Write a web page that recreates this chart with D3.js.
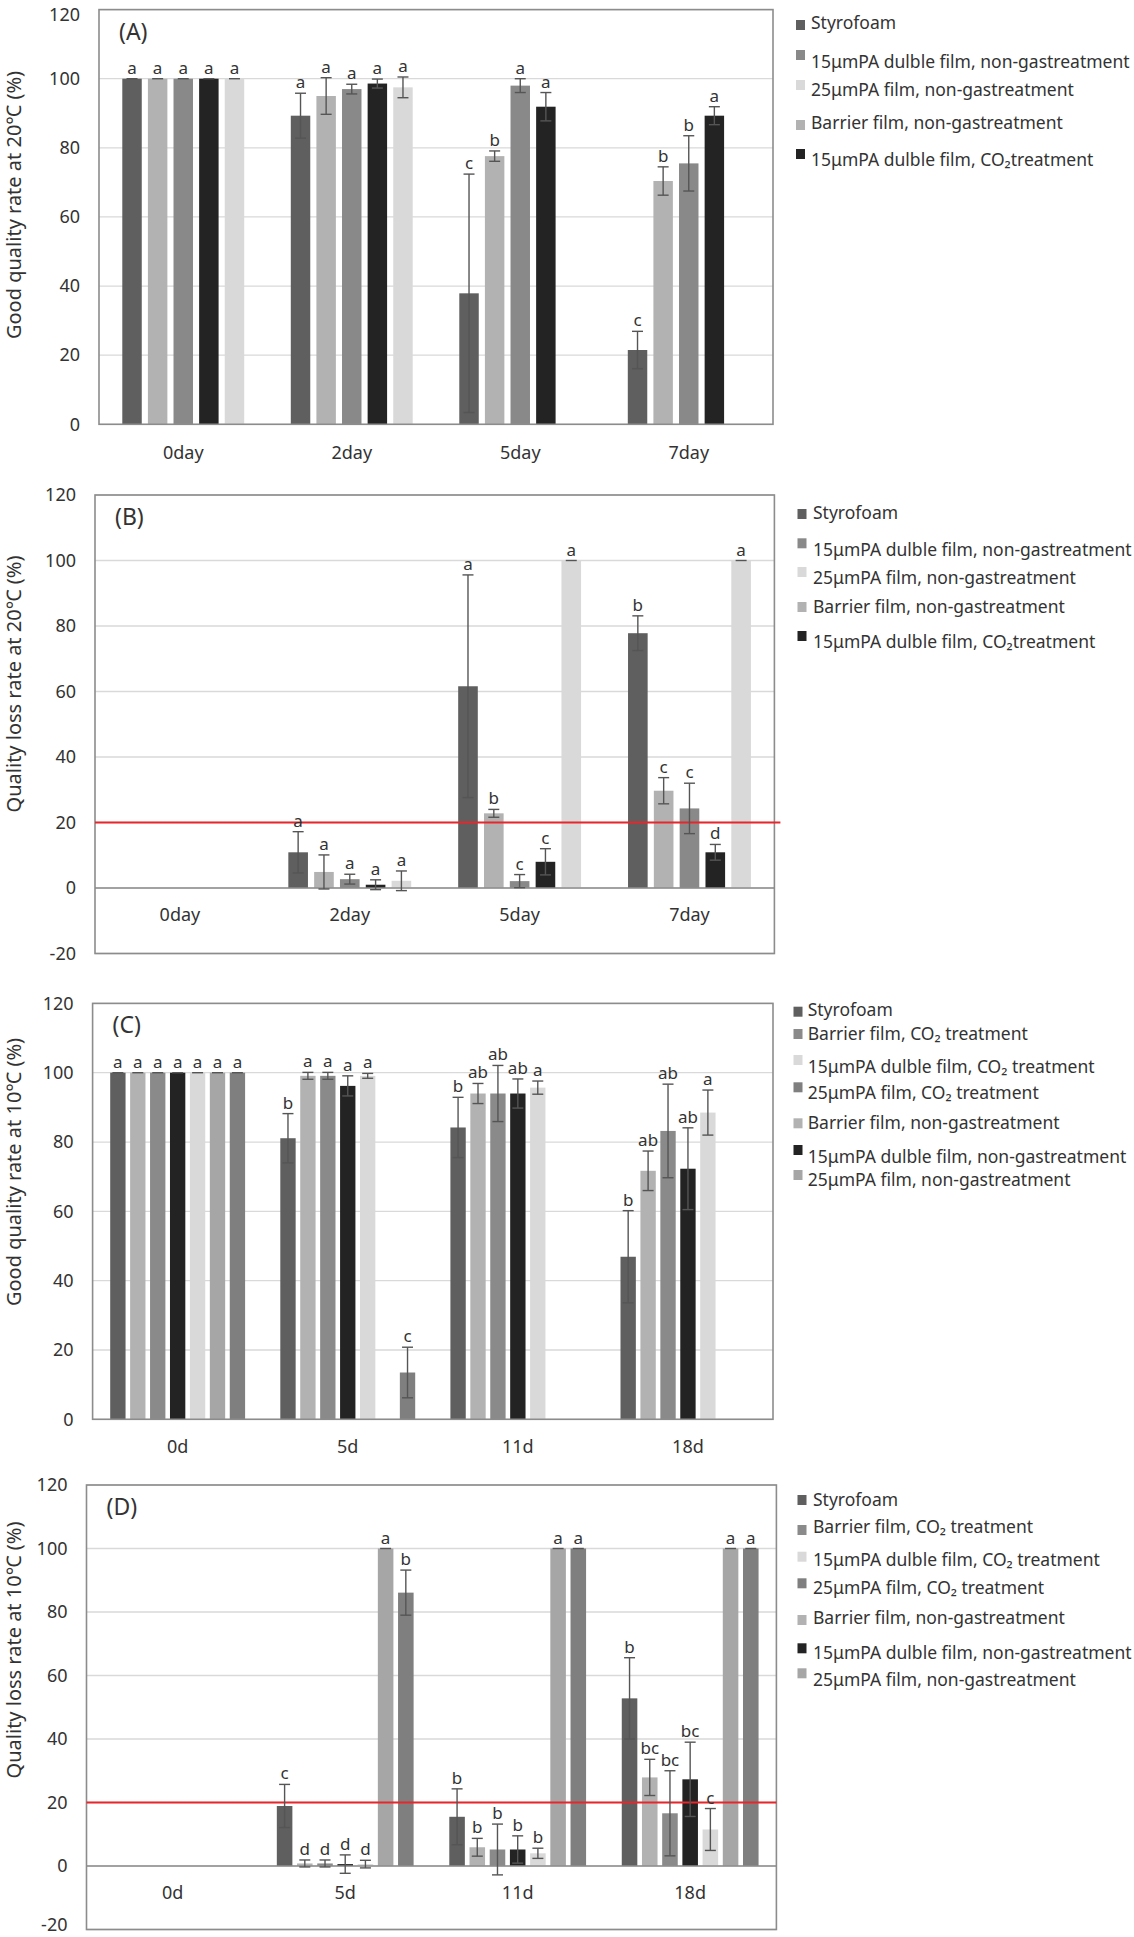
<!DOCTYPE html>
<html>
<head>
<meta charset="utf-8">
<script src="https://cdn.jsdelivr.net/npm/d3@7"></script>
<style>
	body { margin: 0; background: #fff; }
	svg { display: block; font-family: 'Noto Sans', 'DejaVu Sans', sans-serif; }
</style>
</head>
<body>
<svg id="fig" width="1134" height="1937" viewBox="0 0 1134 1937"></svg>
<script>

// ---- data ----
const days_20 = ["0day", "2day", "5day", "7day"];
const days_10 = ["0d", "5d", "11d", "18d"];

// bar order inside a day group (20℃ panels)
const series_20 = [
	"Styrofoam",
	"Barrier film, non-gastreatment",
	"15μmPA dulble film, non-gastreatment",
	"15μmPA dulble film, CO₂treatment",
	"25μmPA film, non-gastreatment"
];
const colors_20 = ["#5f5f5f", "#b2b2b2", "#898989", "#232323", "#d9d9d9"];
const legend_20 = [0, 2, 4, 1, 3];

// bar order inside a day group (10℃ panels)
const series_10 = [
	"Styrofoam",
	"Barrier film, non-gastreatment",
	"Barrier film, CO₂ treatment",
	"15μmPA dulble film, non-gastreatment",
	"15μmPA dulble film, CO₂ treatment",
	"25μmPA film, non-gastreatment",
	"25μmPA film, CO₂ treatment"
];
const colors_10 = ["#5f5f5f", "#b2b2b2", "#8a8a8a", "#232323", "#d9d9d9", "#a6a6a6", "#7f7f7f"];
const legend_10 = [0, 2, 4, 6, 1, 3, 5];

// (A) good quality rate at 20℃ — rows: days, cols: series_20
const good_20 = [
	[100, 100, 100, 100, 100],
	[89.3, 95.0, 97.0, 98.6, 97.5],
	[37.9, 77.6, 98.0, 91.9, null],
	[21.5, 70.4, 75.5, 89.3, null]
];
const good_20_err = [
	[0, 0, 0, 0, 0],
	[6.5, 5.3, 1.4, 1.3, 3.0],
	[34.5, 1.5, 2.0, 4.1, 0],
	[5.4, 4.1, 8.0, 2.6, 0]
];
const good_20_sig = [
	["a", "a", "a", "a", "a"],
	["a", "a", "a", "a", "a"],
	["c", "b", "a", "a", ""],
	["c", "b", "b", "a", ""]
];

// (B) quality loss rate at 20℃
const loss_20 = [
	[null, null, null, null, null],
	[10.9, 4.9, 2.7, 1.0, 2.2],
	[61.6, 22.8, 2.1, 8.0, 100],
	[77.8, 29.7, 24.3, 10.9, 100]
];
const loss_20_err = [
	[0, 0, 0, 0, 0],
	[6.3, 5.2, 1.5, 1.5, 3.0],
	[34.0, 1.2, 2.0, 4.0, 0],
	[5.3, 4.0, 7.7, 2.4, 0]
];
const loss_20_sig = [
	["", "", "", "", ""],
	["a", "a", "a", "a", "a"],
	["a", "b", "c", "c", "a"],
	["b", "c", "c", "d", "a"]
];

// (C) good quality rate at 10℃ — cols: series_10
const good_10 = [
	[100, 100, 100, 100, 100, 100, 100],
	[81.1, 99.1, 99.1, 96.2, 99.1, null, 13.5],
	[84.2, 94.0, 94.0, 94.0, 95.7, null, null],
	[46.9, 71.7, 83.2, 72.3, 88.5, null, null]
];
const good_10_err = [
	[0, 0, 0, 0, 0, 0, 0],
	[7.1, 1.0, 1.0, 2.9, 0.7, 0, 7.3],
	[8.7, 2.9, 8.1, 4.2, 1.9, 0, 0],
	[13.3, 5.7, 13.5, 11.8, 6.5, 0, 0]
];
const good_10_sig = [
	["a", "a", "a", "a", "a", "a", "a"],
	["b", "a", "a", "a", "a", "", "c"],
	["b", "ab", "ab", "ab", "a", "", ""],
	["b", "ab", "ab", "ab", "a", "", ""]
];

// (D) quality loss rate at 10℃
const loss_10 = [
	[null, null, null, null, null, null, null],
	[18.9, 0.8, 0.8, 0.6, 0.6, 100, 86.1],
	[15.5, 5.9, 5.2, 5.2, 4.0, 100, 100],
	[52.8, 27.9, 16.6, 27.3, 11.5, 100, 100]
];
const loss_10_err = [
	[0, 0, 0, 0, 0, 0, 0],
	[6.8, 1.1, 1.1, 2.9, 1.2, 0, 7.1],
	[8.8, 2.8, 8.0, 4.3, 1.6, 0, 0],
	[12.8, 5.7, 13.4, 11.7, 6.6, 0, 0]
];
const loss_10_sig = [
	["", "", "", "", "", "", ""],
	["c", "d", "d", "d", "d", "a", "b"],
	["b", "b", "b", "b", "b", "a", "a"],
	["b", "bc", "bc", "bc", "c", "a", "a"]
];

const y_ticks_pos = [0, 20, 40, 60, 80, 100, 120];
const y_ticks_neg = [-20, 0, 20, 40, 60, 80, 100, 120];
const limit_line = 20;

// ---- layout of the four panels ----
const panels = [
	{
		tag: "(A)", title: "Good quality rate at 20℃ (%)",
		days: days_20, series: series_20, colors: colors_20, legend: legend_20,
		values: good_20, errors: good_20_err, sig: good_20_sig, ticks: y_ticks_pos,
		left: 99, right: 773, top: 9.6, bottom: 424.3, label_y: 453, title_y: 205,
		group_pad: 0.24, bar_pad: 0.24,
		leg_sw_x: 796, leg_tx_x: 811,
		leg_tx_y: [23.3, 61.7, 90, 123.3, 160], leg_sw_y: [25, 55, 85, 125, 154]
	},
	{
		tag: "(B)", title: "Quality loss rate at 20℃ (%)",
		days: days_20, series: series_20, colors: colors_20, legend: legend_20,
		values: loss_20, errors: loss_20_err, sig: loss_20_sig, ticks: y_ticks_neg,
		left: 95, right: 774.4, top: 495, bottom: 953.5, label_y: 915, title_y: 684,
		group_pad: 0.24, bar_pad: 0.24, red: true, red_over: 6,
		leg_sw_x: 797.5, leg_tx_x: 813,
		leg_tx_y: [513.3, 550, 578.3, 606.7, 641.7], leg_sw_y: [514, 543.3, 572, 607, 636]
	},
	{
		tag: "(C)", title: "Good quality rate at 10℃ (%)",
		days: days_10, series: series_10, colors: colors_10, legend: legend_10,
		values: good_10, errors: good_10_err, sig: good_10_sig, ticks: y_ticks_pos,
		left: 92.6, right: 773, top: 1003.4, bottom: 1419.3, label_y: 1446.7, title_y: 1172,
		group_pad: 0.18, bar_pad: 0.23,
		leg_sw_x: 793.5, leg_tx_x: 807.7,
		leg_tx_y: [1010, 1034.3, 1066.7, 1093.3, 1123.3, 1156.7, 1180],
		leg_sw_y: [1011.7, 1034, 1060, 1087.3, 1123.3, 1150, 1175]
	},
	{
		tag: "(D)", title: "Quality loss rate at 10℃ (%)",
		days: days_10, series: series_10, colors: colors_10, legend: legend_10,
		values: loss_10, errors: loss_10_err, sig: loss_10_sig, ticks: y_ticks_neg,
		left: 86.5, right: 776.4, top: 1485, bottom: 1929.5, label_y: 1893, title_y: 1650,
		group_pad: 0.18, bar_pad: 0.23, red: true, red_over: 0,
		leg_sw_x: 797.5, leg_tx_x: 813,
		leg_tx_y: [1500, 1526.7, 1560, 1588.3, 1618.3, 1653.3, 1680],
		leg_sw_y: [1500, 1530, 1556.7, 1583.3, 1620, 1648.3, 1673.3]
	}
];

const fig_h = 1937;
const svg = d3.select("#fig");
svg.append("rect").attr("width", 1134).attr("height", fig_h).attr("fill", "#fff");

function drawPanel(p) {
	const g = svg.append("g");
	const y_min = p.ticks[0];

	const y = d3.scaleLinear()
		.domain([y_min, 120])
		.range([p.bottom, p.top]);

	const x0 = d3.scaleBand()
		.domain(p.days)
		.range([p.left, p.right])
		.paddingInner(p.group_pad)
		.paddingOuter(p.group_pad / 2);

	const x1 = d3.scaleBand()
		.domain(d3.range(p.series.length))
		.range([0, x0.bandwidth()])
		.paddingInner(p.bar_pad)
		.paddingOuter(p.bar_pad / 2);

	// gridlines
	g.append("g").selectAll("line")
		.data(p.ticks)
		.join("line")
		.attr("x1", p.left).attr("x2", p.right)
		.attr("y1", d => y(d)).attr("y2", d => y(d))
		.attr("stroke", "#d9d9d9").attr("stroke-width", 1.3);

	// y tick labels (plain hyphen minus, as in the original)
	const y_axis = g.append("g")
		.attr("transform", `translate(${p.left},0)`)
		.call(d3.axisLeft(y).tickValues(p.ticks).tickSize(0).tickPadding(19).tickFormat(d => String(d)));
	y_axis.select(".domain").remove();
	y_axis.selectAll("text")
		.attr("font-size", 18)
		.attr("font-family", "'Noto Sans', sans-serif")
		.attr("fill", "#333")
		// keep labels at the very top / bottom of the figure inside it
		.attr("dy", d => y(d) < 14 ? "0.62em" : (y(d) > fig_h - 12 ? "0.05em" : "0.32em"));

	// bars
	const flat = [];
	p.days.forEach((d, i) => {
		p.series.forEach((s, j) => {
			const v = p.values[i][j];
			if (v === null) return;
			flat.push({ day: d, k: j, v: v, e: p.errors[i][j], sig: p.sig[i][j] });
		});
	});

	const bx = d => x0(d.day) + x1(d.k);
	const cx = d => bx(d) + x1.bandwidth() / 2;

	g.append("g").selectAll("rect")
		.data(flat)
		.join("rect")
		.attr("x", bx)
		.attr("width", x1.bandwidth())
		.attr("y", d => Math.min(y(d.v), y(0)))
		.attr("height", d => Math.abs(y(0) - y(d.v)))
		.attr("fill", d => p.colors[d.k]);

	// zero line, frame, red limit line
	if (y_min < 0) {
		g.append("line")
			.attr("x1", p.left).attr("x2", p.right)
			.attr("y1", y(0)).attr("y2", y(0))
			.attr("stroke", "#8c8c8c").attr("stroke-width", 1.6);
	}
	g.append("rect")
		.attr("x", p.left).attr("y", p.top)
		.attr("width", p.right - p.left).attr("height", p.bottom - p.top)
		.attr("fill", "none").attr("stroke", "#8c8c8c").attr("stroke-width", 1.6);

	if (p.red) {
		g.append("line")
			.attr("x1", p.left).attr("x2", p.right + p.red_over)
			.attr("y1", y(limit_line)).attr("y2", y(limit_line))
			.attr("stroke", "#e8262b").attr("stroke-width", 2);
	}

	// error bars
	const eb = g.append("g")
		.attr("stroke", "#555").attr("stroke-width", 1.4).attr("fill", "none");
	eb.selectAll(".stem")
		.data(flat)
		.join("line")
		.attr("x1", cx).attr("x2", cx)
		.attr("y1", d => y(d.v + d.e)).attr("y2", d => y(d.v - d.e));
	eb.selectAll(".capt")
		.data(flat)
		.join("line")
		.attr("x1", d => cx(d) - 5.5).attr("x2", d => cx(d) + 5.5)
		.attr("y1", d => y(d.v + d.e)).attr("y2", d => y(d.v + d.e));
	eb.selectAll(".capb")
		.data(flat.filter(d => d.e > 0))
		.join("line")
		.attr("x1", d => cx(d) - 5.5).attr("x2", d => cx(d) + 5.5)
		.attr("y1", d => y(d.v - d.e)).attr("y2", d => y(d.v - d.e));

	// significance letters
	g.append("g").selectAll("text")
		.data(flat.filter(d => d.sig !== ""))
		.join("text")
		.attr("x", cx)
		.attr("y", d => y(d.v + d.e) - 5)
		.attr("text-anchor", "middle")
		.attr("font-size", 17)
		.attr("fill", "#333")
		.text(d => d.sig);

	// category labels
	g.append("g").selectAll("text")
		.data(p.days)
		.join("text")
		.attr("x", d => x0(d) + x0.bandwidth() / 2)
		.attr("y", p.label_y)
		.attr("dy", "0.35em")
		.attr("text-anchor", "middle")
		.attr("font-size", 18)
		.attr("fill", "#333")
		.text(d => d);

	// panel tag
	g.append("text")
		.attr("x", p.left + 20)
		.attr("y", p.top + 22)
		.attr("dy", "0.35em")
		.attr("font-size", 23)
		.attr("fill", "#333")
		.text(p.tag);

	// y title
	g.append("text")
		.attr("transform", `translate(14,${p.title_y}) rotate(-90)`)
		.attr("text-anchor", "middle")
		.attr("dy", "0.35em")
		.attr("font-size", 20)
		.attr("fill", "#333")
		.text(p.title);

	// legend
	const leg = g.append("g");
	p.legend.forEach((k, i) => {
		leg.append("rect")
			.attr("x", p.leg_sw_x)
			.attr("y", p.leg_sw_y[i] - 5)
			.attr("width", 9).attr("height", 10)
			.attr("fill", p.colors[k]);
		leg.append("text")
			.attr("x", p.leg_tx_x)
			.attr("y", p.leg_tx_y[i])
			.attr("dy", "0.35em")
			.attr("font-size", 17.5)
			.attr("fill", "#333")
			.text(p.series[k]);
	});
}

panels.forEach(drawPanel);

</script>
</body>
</html>
